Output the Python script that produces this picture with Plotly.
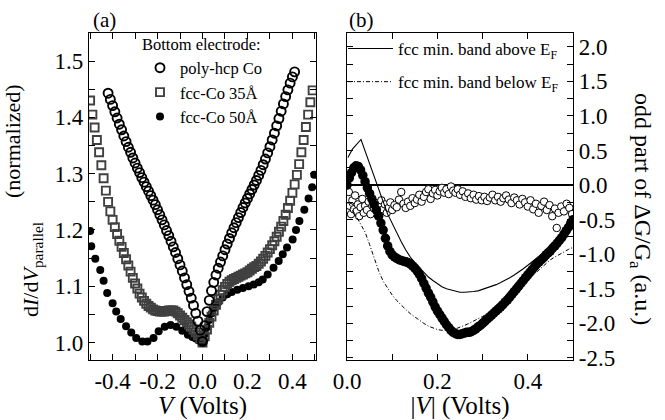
import plotly.graph_objects as go

# ---------------- panel (a) : dI/dV (normalized) vs V ----------------
V_hcp = [-0.42, -0.41, -0.40, -0.39, -0.38, -0.37, -0.36, -0.35, -0.34, -0.33,
         -0.32, -0.31, -0.30, -0.29, -0.28, -0.27, -0.26, -0.25, -0.24, -0.23,
         -0.22, -0.21, -0.20, -0.19, -0.18, -0.17, -0.16, -0.15, -0.14, -0.13,
         -0.12, -0.11, -0.10, -0.09, -0.08, -0.07, -0.06, -0.05, -0.04, -0.03,
         -0.02, -0.01, 0.00, 0.01, 0.02, 0.03, 0.04, 0.05, 0.06, 0.07,
         0.08, 0.09, 0.10, 0.11, 0.12, 0.13, 0.14, 0.15, 0.16, 0.17,
         0.18, 0.19, 0.20, 0.21, 0.22, 0.23, 0.24, 0.25, 0.26, 0.27,
         0.28, 0.29, 0.30, 0.31, 0.32, 0.33, 0.34, 0.35, 0.36, 0.37,
         0.38, 0.39, 0.40, 0.41]
G_hcp = [1.443, 1.432, 1.421, 1.410, 1.399, 1.388, 1.378, 1.367, 1.357, 1.347,
         1.338, 1.328, 1.319, 1.310, 1.302, 1.293, 1.285, 1.277, 1.269, 1.261,
         1.253, 1.245, 1.236, 1.227, 1.218, 1.209, 1.199, 1.190, 1.180, 1.170,
         1.160, 1.149, 1.138, 1.127, 1.115, 1.103, 1.091, 1.079, 1.066, 1.052,
         1.038, 1.022, 1.002, 1.030, 1.055, 1.075, 1.092, 1.107, 1.120, 1.132,
         1.143, 1.154, 1.165, 1.175, 1.185, 1.195, 1.204, 1.213, 1.222, 1.231,
         1.240, 1.248, 1.256, 1.264, 1.272, 1.280, 1.288, 1.297, 1.306, 1.316,
         1.326, 1.337, 1.348, 1.360, 1.372, 1.385, 1.398, 1.411, 1.424, 1.437,
         1.449, 1.461, 1.472, 1.481]

V_35 = [-0.50, -0.49, -0.48, -0.47, -0.46, -0.45, -0.44, -0.43, -0.42, -0.41,
        -0.40, -0.39, -0.38, -0.37, -0.36, -0.35, -0.34, -0.33, -0.32, -0.31,
        -0.30, -0.29, -0.28, -0.27, -0.26, -0.25, -0.24, -0.23, -0.22, -0.21,
        -0.20, -0.19, -0.18, -0.17, -0.16, -0.15, -0.14, -0.13, -0.12, -0.11,
        -0.10, -0.09, -0.08, -0.07, -0.06, -0.05, -0.04, -0.03, -0.02, -0.01,
        0.00, 0.01, 0.02, 0.03, 0.04, 0.05, 0.06, 0.07, 0.08, 0.09,
        0.10, 0.11, 0.12, 0.13, 0.14, 0.15, 0.16, 0.17, 0.18, 0.19,
        0.20, 0.21, 0.22, 0.23, 0.24, 0.25, 0.26, 0.27, 0.28, 0.29,
        0.30, 0.31, 0.32, 0.33, 0.34, 0.35, 0.36, 0.37, 0.38, 0.39,
        0.40, 0.41, 0.42, 0.43, 0.44, 0.45, 0.46, 0.47, 0.48, 0.49]
G_35 = [1.430, 1.405, 1.382, 1.360, 1.338, 1.315, 1.292, 1.270, 1.250, 1.233,
        1.218, 1.205, 1.193, 1.181, 1.170, 1.159, 1.148, 1.137, 1.126, 1.115,
        1.105, 1.096, 1.087, 1.080, 1.074, 1.069, 1.065, 1.062, 1.059, 1.057,
        1.056, 1.055, 1.055, 1.055, 1.056, 1.057, 1.057, 1.057, 1.055, 1.052,
        1.048, 1.044, 1.040, 1.036, 1.032, 1.028, 1.023, 1.018, 1.013, 1.007,
        1.000, 1.011, 1.023, 1.035, 1.046, 1.057, 1.067, 1.077, 1.085, 1.093,
        1.099, 1.104, 1.108, 1.111, 1.113, 1.115, 1.117, 1.119, 1.121, 1.123,
        1.125, 1.128, 1.131, 1.134, 1.136, 1.140, 1.144, 1.149, 1.154, 1.160,
        1.166, 1.173, 1.180, 1.188, 1.197, 1.206, 1.216, 1.227, 1.239, 1.252,
        1.266, 1.281, 1.298, 1.317, 1.338, 1.360, 1.383, 1.405, 1.427, 1.448]

V_50 = [-0.500, -0.495, -0.477, -0.455, -0.440, -0.424, -0.400, -0.384, -0.364, -0.340,
        -0.317, -0.295, -0.268, -0.245, -0.218, -0.195, -0.168, -0.142, -0.116, -0.090,
        -0.065, -0.045, -0.030, -0.018, -0.008, 0.000, 0.005, 0.012, 0.020, 0.030,
        0.042, 0.055, 0.070, 0.090, 0.110, 0.130, 0.155, 0.180, 0.205, 0.228,
        0.250, 0.268, 0.290, 0.316, 0.339, 0.357, 0.376, 0.401, 0.416, 0.431,
        0.453, 0.472, 0.488, 0.497]
G_50 = [1.198, 1.171, 1.149, 1.129, 1.110, 1.088, 1.070, 1.055, 1.042, 1.029,
        1.018, 1.008, 1.002, 1.002, 1.008, 1.020, 1.028, 1.031, 1.028, 1.021,
        1.014, 1.010, 1.007, 1.004, 1.002, 1.000, 1.005, 1.015, 1.027, 1.040,
        1.052, 1.062, 1.071, 1.080, 1.086, 1.090, 1.094, 1.097, 1.100, 1.103,
        1.107, 1.112, 1.121, 1.133, 1.145, 1.157, 1.169, 1.183, 1.200, 1.216,
        1.236, 1.256, 1.276, 1.298]

# ---------------- panel (b) : odd part of dG/G vs |V| ----------------
Vb_50 = [0.000, 0.005, 0.010, 0.015, 0.020, 0.025, 0.030, 0.035, 0.040, 0.045,
         0.050, 0.055, 0.060, 0.065, 0.070, 0.075, 0.080, 0.085, 0.090, 0.095,
         0.100, 0.105, 0.110, 0.115, 0.120, 0.125, 0.130, 0.135, 0.140, 0.145,
         0.150, 0.155, 0.160, 0.165, 0.170, 0.175, 0.180, 0.185, 0.190, 0.195,
         0.200, 0.205, 0.210, 0.215, 0.220, 0.225, 0.230, 0.235, 0.240, 0.245,
         0.250, 0.255, 0.260, 0.265, 0.270, 0.275, 0.280, 0.285, 0.290, 0.295,
         0.300, 0.305, 0.310, 0.315, 0.320, 0.325, 0.330, 0.335, 0.340, 0.345,
         0.350, 0.355, 0.360, 0.365, 0.370, 0.375, 0.380, 0.385, 0.390, 0.395,
         0.400, 0.405, 0.410, 0.415, 0.420, 0.425, 0.430, 0.435, 0.440, 0.445,
         0.450, 0.455, 0.460, 0.465, 0.470, 0.475, 0.480, 0.485, 0.490, 0.495,
         0.500]
odd_50 = [0.00, 0.10, 0.18, 0.25, 0.28, 0.27, 0.22, 0.14, 0.05, -0.04,
          -0.12, -0.20, -0.28, -0.36, -0.45, -0.55, -0.65, -0.77, -0.88, -0.96,
          -1.01, -1.04, -1.06, -1.08, -1.09, -1.10, -1.11, -1.12, -1.14, -1.17,
          -1.20, -1.24, -1.29, -1.35, -1.42, -1.49, -1.56, -1.62, -1.69, -1.76,
          -1.82, -1.87, -1.92, -1.97, -2.02, -2.06, -2.10, -2.13, -2.15, -2.16,
          -2.16, -2.15, -2.14, -2.13, -2.13, -2.12, -2.10, -2.08, -2.05, -2.03,
          -2.00, -1.97, -1.94, -1.91, -1.88, -1.85, -1.82, -1.79, -1.76, -1.73,
          -1.69, -1.66, -1.62, -1.58, -1.54, -1.50, -1.46, -1.42, -1.38, -1.34,
          -1.30, -1.26, -1.22, -1.18, -1.14, -1.11, -1.08, -1.05, -1.01, -0.98,
          -0.95, -0.91, -0.88, -0.84, -0.80, -0.76, -0.71, -0.66, -0.61, -0.55,
          -0.50]

Vb_hcp = [0.004, 0.006, 0.009, 0.012, 0.015, 0.018, 0.021, 0.024, 0.027, 0.030,
          0.034, 0.037, 0.040, 0.044, 0.048, 0.052, 0.056, 0.060, 0.064, 0.068,
          0.072, 0.076, 0.080, 0.084, 0.088, 0.092, 0.096, 0.100, 0.105, 0.110,
          0.115, 0.120, 0.125, 0.130, 0.135, 0.140, 0.145, 0.150, 0.155, 0.160,
          0.165, 0.170, 0.175, 0.180, 0.185, 0.190, 0.195, 0.200, 0.205, 0.210,
          0.215, 0.220, 0.225, 0.230, 0.235, 0.240, 0.245, 0.250, 0.256, 0.262,
          0.268, 0.274, 0.280, 0.286, 0.292, 0.298, 0.304, 0.310, 0.316, 0.322,
          0.328, 0.334, 0.340, 0.346, 0.352, 0.358, 0.364, 0.370, 0.376, 0.382,
          0.388, 0.394, 0.400, 0.406, 0.412, 0.418, 0.424, 0.430, 0.436, 0.442,
          0.448, 0.454, 0.460, 0.464, 0.468, 0.474, 0.480, 0.486, 0.492, 0.498]
odd_hcp = [-0.10, -0.30, -0.42, -0.22, -0.35, -0.15, -0.38, -0.28, -0.45, -0.32,
           -0.20, -0.40, -0.30, -0.36, -0.24, -0.42, -0.30, -0.34, -0.26, -0.38,
           -0.31, -0.22, -0.35, -0.28, -0.40, -0.33, -0.25, -0.36, -0.29, -0.32,
           -0.21, -0.10, -0.27, -0.33, -0.24, -0.30, -0.19, -0.26, -0.21, -0.14,
           -0.24, -0.17, -0.10, -0.06, -0.20, -0.12, -0.07, -0.15, -0.09, -0.04,
           -0.11, -0.06, -0.13, -0.02, -0.08, -0.11, -0.06, -0.14, -0.09, -0.17,
           -0.12, -0.19, -0.14, -0.21, -0.16, -0.22, -0.17, -0.23, -0.18, -0.14,
           -0.22, -0.17, -0.24, -0.19, -0.15, -0.21, -0.26, -0.18, -0.22, -0.28,
           -0.20, -0.25, -0.31, -0.22, -0.35, -0.27, -0.40, -0.30, -0.24, -0.36,
           -0.29, -0.45, -0.34, -0.62, -0.40, -0.31, -0.38, -0.27, -0.33, -0.42]

Vb_above = [0.002, 0.012, 0.031, 0.040, 0.050, 0.060, 0.070, 0.080, 0.090, 0.100,
            0.110, 0.120, 0.130, 0.140, 0.150, 0.160, 0.170, 0.180, 0.190, 0.200,
            0.210, 0.220, 0.230, 0.240, 0.250, 0.260, 0.270, 0.280, 0.290, 0.300,
            0.310, 0.320, 0.330, 0.340, 0.350, 0.360, 0.370, 0.380, 0.390, 0.400,
            0.410, 0.420, 0.430, 0.440, 0.450, 0.460, 0.470, 0.480, 0.490, 0.500]
odd_above = [0.40, 0.52, 0.66, 0.50, 0.31, 0.13, -0.05, -0.24, -0.42, -0.56,
             -0.69, -0.82, -0.94, -1.04, -1.12, -1.19, -1.26, -1.33, -1.38, -1.43,
             -1.47, -1.50, -1.52, -1.54, -1.55, -1.55, -1.55, -1.54, -1.53, -1.51,
             -1.49, -1.47, -1.44, -1.41, -1.38, -1.34, -1.30, -1.26, -1.21, -1.16,
             -1.11, -1.06, -1.01, -0.95, -0.89, -0.83, -0.77, -0.71, -0.65, -0.59]

Vb_below = [0.003, 0.010, 0.020, 0.030, 0.040, 0.050, 0.060, 0.070, 0.080, 0.090,
            0.100, 0.110, 0.120, 0.130, 0.140, 0.150, 0.160, 0.170, 0.180, 0.190,
            0.200, 0.210, 0.220, 0.230, 0.240, 0.250, 0.260, 0.270, 0.280, 0.290,
            0.300, 0.310, 0.320, 0.330, 0.340, 0.350, 0.360, 0.370, 0.380, 0.390,
            0.400, 0.410, 0.420, 0.430, 0.440, 0.450, 0.460, 0.470, 0.480, 0.490,
            0.500]
odd_below = [-0.25, -0.33, -0.45, -0.57, -0.68, -0.86, -1.06, -1.24, -1.39, -1.50,
             -1.59, -1.67, -1.74, -1.80, -1.86, -1.91, -1.96, -2.00, -2.04, -2.07,
             -2.09, -2.10, -2.10, -2.09, -2.08, -2.06, -2.03, -2.00, -1.97, -1.93,
             -1.90, -1.86, -1.82, -1.77, -1.71, -1.65, -1.60, -1.54, -1.48, -1.43,
             -1.37, -1.31, -1.25, -1.19, -1.13, -1.08, -1.04, -1.00, -0.96, -0.93,
             -0.90]

# ---------------- ticks ----------------
xa_vals = [-0.4, -0.2, 0.0, 0.2, 0.4]
xa_text = ["-0.4", "-0.2", "0.0", "0.2", "0.4"]
ya_vals = [1.0, 1.1, 1.2, 1.3, 1.4, 1.5]
ya_text = ["1.0", "1.1", "1.2", "1.3", "1.4", "1.5"]
xb_vals = [0.0, 0.2, 0.4]
xb_text = ["0.0", "0.2", "0.4"]
yb_vals = [-2.5, -2.0, -1.5, -1.0, -0.5, 0.0, 0.5, 1.0, 1.5, 2.0]
yb_text = ["-2.5", "-2.0", "-1.5", "-1.0", "-0.5", "0.0", "0.5", "1.0", "1.5", "2.0"]

FONT = "Liberation Serif"
W, H = 665, 420

fig = go.Figure()

# panel (a) traces
fig.add_trace(go.Scatter(x=V_50, y=G_50, mode="markers", name="fcc-Co 50Å",
                         marker=dict(symbol="circle", size=8, color="black"),
                         legendrank=3, xaxis="x", yaxis="y"))
fig.add_trace(go.Scatter(x=V_35, y=G_35, mode="markers", name="fcc-Co 35Å",
                         marker=dict(symbol="square-open", size=8, color="#404040",
                                     line=dict(width=1.9)),
                         legendrank=2, xaxis="x", yaxis="y"))
fig.add_trace(go.Scatter(x=V_hcp, y=G_hcp, mode="markers", name="poly-hcp Co",
                         marker=dict(symbol="circle-open", size=9, color="black",
                                     line=dict(width=1.9)),
                         legendrank=1, xaxis="x", yaxis="y"))

# panel (b) traces
fig.add_trace(go.Scatter(x=Vb_hcp, y=odd_hcp, mode="markers", showlegend=False,
                         marker=dict(symbol="circle", size=7.5, color="white",
                                     line=dict(width=1, color="black")),
                         xaxis="x2", yaxis="y2"))
fig.add_trace(go.Scatter(x=Vb_above, y=odd_above, mode="lines",
                         name="fcc min. band above E<sub>F</sub>", legendgroup="a",
                         line=dict(color="black", width=1.1),
                         legend="legend2", xaxis="x2", yaxis="y2"))
fig.add_trace(go.Scatter(x=Vb_below, y=odd_below, mode="lines",
                         name="fcc min. band below E<sub>F</sub>", legendgroup="b",
                         line=dict(color="black", width=1, dash="4px,2px,1px,2px"),
                         legend="legend2", xaxis="x2", yaxis="y2"))
fig.add_trace(go.Scatter(x=Vb_50, y=odd_50, mode="markers", showlegend=False,
                         marker=dict(symbol="circle", size=9.5, color="black"),
                         xaxis="x2", yaxis="y2"))

axis_common = dict(showline=True, linecolor="black", linewidth=1.3, mirror="ticks",
                   ticks="inside", ticklen=6, tickwidth=1.2, tickcolor="black",
                   showgrid=False, automargin=False,
                   tickfont=dict(family=FONT, size=23, color="black"))

fig.update_layout(
    width=W, height=H,
    margin=dict(l=0, r=0, t=0, b=0, autoexpand=False),
    paper_bgcolor="white", plot_bgcolor="white",
    font=dict(family=FONT, color="black"),
    xaxis=dict(domain=[89 / W, 316 / W], range=[-0.505, 0.505], anchor="y",
               zeroline=False,
               tickmode="array", tickvals=xa_vals, ticktext=xa_text,
               minor=dict(tickmode="linear", tick0=0, dtick=0.1, ticks="inside",
                          ticklen=6, tickwidth=1.2, tickcolor="black"),
               title=dict(text="<i>V</i> (Volts)", font=dict(family=FONT, size=25),
                          standoff=4),
               **axis_common),
    yaxis=dict(domain=[1 - 360 / H, 1 - 33 / H], range=[0.969, 1.55], anchor="x",
               zeroline=False,
               tickmode="array", tickvals=ya_vals, ticktext=ya_text,
               minor=dict(tickmode="linear", tick0=1.0, dtick=0.05, ticks="inside",
                          ticklen=6, tickwidth=1.2, tickcolor="black"),
               **axis_common),
    xaxis2=dict(domain=[347 / W, 573 / W], range=[0, 0.5], anchor="y2",
                zeroline=False,
                tickmode="array", tickvals=xb_vals, ticktext=xb_text,
                minor=dict(tickmode="linear", tick0=0, dtick=0.1, ticks="inside",
                           ticklen=6, tickwidth=1.2, tickcolor="black"),
                title=dict(text="|<i>V</i>| (Volts)", font=dict(family=FONT, size=25),
                           standoff=4),
                **axis_common),
    yaxis2=dict(domain=[1 - 360 / H, 1 - 33 / H], range=[-2.53, 2.2], anchor="x2",
                side="right",
                tickmode="array", tickvals=yb_vals, ticktext=yb_text,
                minor=dict(tickmode="linear", tick0=0, dtick=0.25, ticks="inside",
                           ticklen=6, tickwidth=1.2, tickcolor="black"),
                zeroline=True, zerolinecolor="black", zerolinewidth=2,
                **axis_common),
    legend=dict(x=140 / W, y=1 - 29 / H, xanchor="left", yanchor="top",
                bgcolor="rgba(0,0,0,0)", tracegroupgap=0,
                title=dict(text="Bottom electrode:", font=dict(family=FONT, size=16.5)),
                font=dict(family=FONT, size=16.5), traceorder="normal"),
    legend2=dict(x=343 / W, y=1 - 31 / H, xanchor="left", yanchor="top",
                 bgcolor="rgba(0,0,0,0)", itemwidth=45, tracegroupgap=8,
                 traceorder="grouped",
                 font=dict(family=FONT, size=17)),
)

ann = dict(xref="paper", yref="paper", showarrow=False, xanchor="center", yanchor="middle")
fig.add_annotation(text="(a)", x=104 / W, y=1 - 20 / H, font=dict(family=FONT, size=21), **ann)
fig.add_annotation(text="(b)", x=362 / W, y=1 - 20 / H, font=dict(family=FONT, size=21), **ann)
fig.add_annotation(text="(normalized)", x=13 / W, y=1 - 141 / H, textangle=-90,
                   font=dict(family=FONT, size=22), **ann)
fig.add_annotation(text="d<i>I</i>/d<i>V</i><sub>parallel</sub>", x=32 / W, y=1 - 270 / H,
                   textangle=-90, font=dict(family=FONT, size=22), **ann)
fig.add_annotation(text="odd part of ΔG/G<sub>a</sub> (a.u.)", x=641 / W, y=1 - 209 / H,
                   textangle=90, font=dict(family=FONT, size=24), **ann)

fig.write_html("out.html", config={"displayModeBar": False},
               post_script="document.body.style.margin='0';"
                           "document.documentElement.style.overflow='hidden';")
